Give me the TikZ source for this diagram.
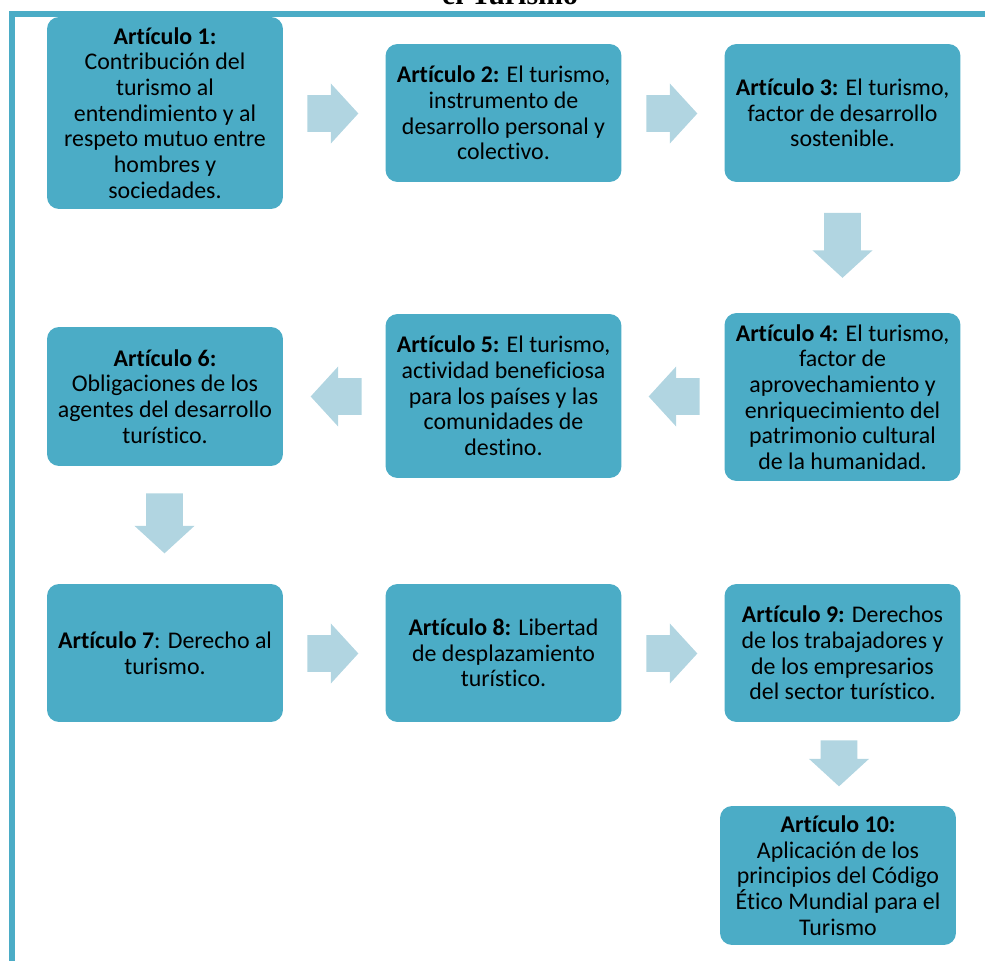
\documentclass[tikz,border=0pt]{standalone}
\usepackage{fontspec}
\setmainfont{Carlito}[Ligatures=NoCommon]
\newfontfamily\titlefont{Liberation Serif}
\usetikzlibrary{shapes.arrows}

\definecolor{boxteal}{HTML}{4BACC6}
\definecolor{arrowblue}{HTML}{B1D5E1}

\tikzset{
    art/.style={fill=boxteal, rounded corners=0.24cm, align=center, inner sep=0pt,
        minimum width=4.72cm, font=\fontsize{13.6}{14.6}\selectfont},
    flow/.style={single arrow, fill=arrowblue, inner xsep=0pt, inner ysep=0.36cm,
        single arrow head extend=0.235cm, single arrow head indent=0pt,
        single arrow tip angle=95, anchor=tail},
}

\begin{document}
\begin{tikzpicture}[x=0.02cm, y=-0.02cm]
    \useasboundingbox (0,0) rectangle (985,961);
    \clip (0,0) rectangle (985,961);
    % title, cut at the top
    \node[anchor=base, font=\titlefont\bfseries\fontsize{17}{19}\selectfont] (title) at (510,4) {el Turismo};
    % frame
    \draw[boxteal, line width=0.12cm] (11.7,975) -- (11.7,13.5) -- (995,13.5);

    % articles
    \node[art, minimum height=3.84cm] (a1) at (165,113) {\textbf{Artículo 1:}\\Contribución del\\turismo al\\entendimiento y al\\respeto mutuo entre\\hombres y\\sociedades.};
    \node[art, minimum height=2.76cm] (a2) at (503.5,113) {\textbf{Artículo 2:} El turismo,\\instrumento de\\desarrollo personal y\\colectivo.};
    \node[art, minimum height=2.76cm] (a3) at (842.5,113) {\textbf{Artículo 3:} El turismo,\\factor de desarrollo\\sostenible.};
    \node[art, minimum height=3.36cm] (a4) at (842.5,397) {\textbf{Artículo 4:} El turismo,\\factor de\\aprovechamiento y\\enriquecimiento del\\patrimonio cultural\\de la humanidad.};
    \node[art, minimum height=3.28cm] (a5) at (503.5,396) {\textbf{Artículo 5:} El turismo,\\actividad beneficiosa\\para los países y las\\comunidades de\\destino.};
    \node[art, minimum height=2.78cm] (a6) at (165,396.5) {\textbf{Artículo 6:}\\Obligaciones de los\\agentes del desarrollo\\turístico.};
    \node[art, minimum height=2.76cm] (a7) at (165,653) {\textbf{Artículo 7}: Derecho al\\turismo.};
    \node[art, minimum height=2.76cm] (a8) at (503.5,653) {\textbf{Artículo 8:} Libertad\\de desplazamiento\\turístico.};
    \node[art, minimum height=2.76cm] (a9) at (842.5,653) {\textbf{Artículo 9:} Derechos\\de los trabajadores y\\de los empresarios\\del sector turístico.};
    \node[art, minimum height=2.78cm] (a10) at (838,875.5) {\textbf{Artículo 10:}\\Aplicación de los\\principios del Código\\Ético Mundial para el\\Turismo};

    % arrows
    \node[flow, minimum height=1.02cm] (f12) at (307,113.5) {};
    \node[flow, minimum height=1.02cm] (f23) at (646,113.5) {};
    \node[flow, minimum height=1.3cm, rotate=-90] (f34) at (842.5,212.5) {};
    \node[flow, minimum height=1.02cm, rotate=180] (f45) at (700,396.5) {};
    \node[flow, minimum height=1.02cm, rotate=180] (f56) at (362,396.5) {};
    \node[flow, minimum height=1.2cm, rotate=-90] (f67) at (164.5,493) {};
    \node[flow, minimum height=1.02cm] (f78) at (307,653.5) {};
    \node[flow, minimum height=1.02cm] (f89) at (646,653.5) {};
    \node[flow, minimum height=0.92cm, rotate=-90] (f910) at (839,740) {};
\end{tikzpicture}
\end{document}
